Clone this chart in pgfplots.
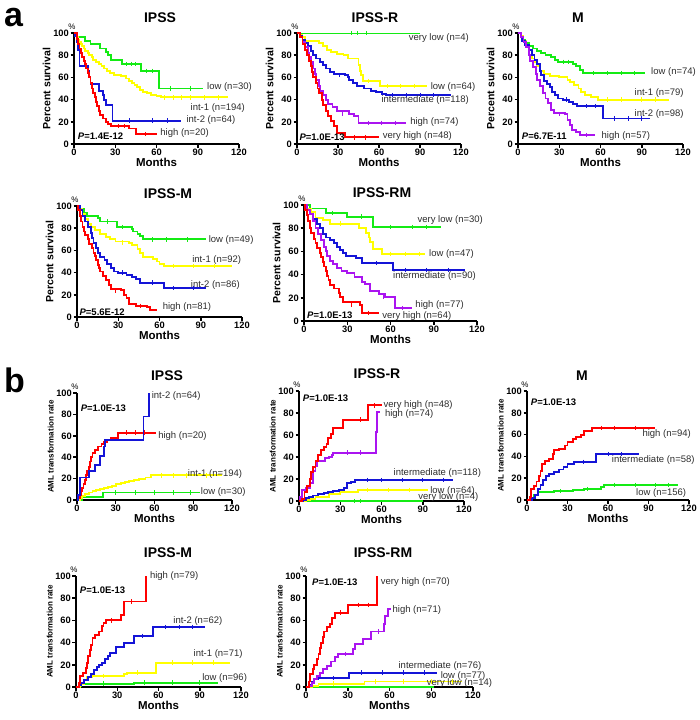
\documentclass[border=0pt]{standalone}
\usepackage{fontspec}
\setmainfont{Liberation Sans}
\usepackage{pgfplots}
\pgfplotsset{compat=1.18}
\definecolor{kmgreen}{RGB}{20,235,20}
\definecolor{kmyellow}{RGB}{255,255,0}
\definecolor{kmblue}{RGB}{20,20,215}
\definecolor{kmred}{RGB}{255,0,0}
\definecolor{kmpurple}{RGB}{170,20,240}
\definecolor{labgray}{RGB}{45,45,45}
\pgfplotsset{
  kmbase/.style={scale only axis, xmin=0, xmax=120, ymin=0, ymax=100,
    axis x line*=bottom, axis y line*=left, axis line style={line width=1.5pt,-},
    xtick={0,30,60,90,120}, ytick={0,20,40,60,80,100},
    tick align=outside, major tick length=3.5pt, tick style={line width=1.5pt,black},
    ticklabel style={font=\bfseries\fontsize{9.3}{9.3}\selectfont, inner sep=1.5pt},
    xlabel={Months}, xlabel style={font=\bfseries\fontsize{11.5}{12}\selectfont, inner sep=1pt},
    clip=false, anchor=north west, /pgf/number format/assume math mode=true,
    every axis plot/.append style={const plot, line width=1.9pt}},
  os/.style={kmbase, ylabel={Percent survival}, ylabel style={font=\bfseries\fontsize{10.5}{11}\selectfont, inner sep=1pt}},
  aml/.style={kmbase, ylabel={AML transformation rate}, ylabel style={font=\bfseries\fontsize{8}{9}\selectfont, inner sep=1pt}},
  cens/.style={only marks, mark=|, mark size=2.2pt, mark options={line width=0.8pt}},
}
\newcommand{\lab}[3]{\node[anchor=west, inner sep=1pt, font=\fontsize{9.5}{9.5}\selectfont, text=labgray] at (axis cs:#1,#2) {#3};}
\newcommand{\pval}[3]{\node[anchor=west, inner sep=1pt, font=\bfseries\fontsize{9.5}{9.5}\selectfont] at (axis cs:#1,#2) {\textit{P}=#3};}
\newcommand{\pct}{\node[font=\fontsize{8}{8}\selectfont, inner sep=0pt] at ([xshift=-2pt,yshift=6pt]rel axis cs:0,1) {\%};}
\newcommand{\ttl}[3]{\node[font=\bfseries\fontsize{14}{14}\selectfont] at (#1pt,-#2pt) {#3};}
\newcommand{\cens}[2]{\addplot[cens, color=#1] coordinates {#2};}
\begin{document}
\begin{tikzpicture}
\useasboundingbox (0pt,0pt) rectangle (700pt,-720pt);
\node[anchor=base west, inner sep=0pt, font=\bfseries\fontsize{34}{34}\selectfont] at (4pt,-26pt) {a};
\node[anchor=base west, inner sep=0pt, font=\bfseries\fontsize{34}{34}\selectfont] at (4pt,-392pt) {b};
% ---------- A1 IPSS
\begin{axis}[os, at={(74pt,-33pt)}, width=165pt, height=111pt]
\addplot[kmgreen] coordinates {(0,100)(2,96)(8,93)(12,90)(19,86)(23,83)(25,80)(27,76)(35,72)(49,66)(62,50)(94,50)};
\addplot[kmyellow] coordinates {(0,100)(1,98)(2,96)(3,94)(4,92)(5,90)(6,88)(7,86)(8,84)(10,82)(11,80)(13,78)(14,76)(16,74)(18,72)(20,70)(22,68)(24,66)(26,64)(29,62)(34,61)(38,59)(40,57)(42,55)(44,53)(46,51)(48,49)(50,47)(53,46)(56,44)(60,43)(63,42)(112,42)};
\addplot[kmblue] coordinates {(0,100)(1,97)(2,92)(3,85)(4,70)(10,66)(11,60)(12,54)(18,48)(21,44)(22,40)(23,35)(28,21)(78,21)};
\addplot[kmred] coordinates {(0,100)(2,95)(3,90)(4,86)(5,82)(6,78)(7,75)(8,72)(9,68)(10,64)(11,60)(12,55)(13,50)(14,46)(15,42)(16,38)(17,34)(18,30)(19,26)(21,23)(23,20)(25,18)(27,16)(40,14)(45,9)(60,9)};
\cens{kmgreen}{(38,72)(42,72)(45,72)(53,66)(57,66)(70,50)(85,50)}
\cens{kmyellow}{(66,42)(72,42)(78,42)(85,42)(95,42)(105,42)}
\cens{kmblue}{(40,21)(57,21)(68,21)}
\cens{kmred}{(32,16)(37,16)(52,9)}
\lab{96}{51}{low (n=30)}
\lab{84}{32}{int-1 (n=194)}
\lab{81}{22}{int-2 (n=64)}
\lab{62}{10}{high (n=20)}
\pval{2}{7}{1.4E-12}
\pct
\end{axis}
% ---------- A2 IPSS-R
\begin{axis}[os, at={(297pt,-33pt)}, width=164pt, height=111pt]
\addplot[kmgreen, line width=1pt] coordinates {(0,100)(90,100)};
\addplot[kmyellow] coordinates {(0,100)(2,98)(4,96)(6,93)(16,91)(19,88)(22,85)(25,83)(29,81)(34,80)(37,77)(45,71)(46,66)(47,62)(48,57)(61,52)(95,52)};
\addplot[kmblue] coordinates {(0,100)(2,97)(4,94)(6,91)(8,88)(10,84)(12,80)(14,77)(17,74)(19,71)(21,68)(24,65)(27,63)(35,62)(37,60)(38,58)(41,55)(44,52)(49,50)(54,48)(58,47)(62,45)(65,44)(113,44)};
\addplot[kmpurple] coordinates {(0,100)(2,96)(4,92)(6,87)(8,82)(9,78)(10,74)(12,68)(13,63)(14,58)(16,52)(17,48)(19,44)(21,40)(23,36)(26,33)(29,30)(38,27)(42,25)(45,19)(80,19)};
\addplot[kmred] coordinates {(0,100)(2,96)(4,90)(6,85)(7,80)(9,75)(10,70)(11,65)(12,60)(14,55)(15,50)(16,46)(18,40)(19,35)(21,30)(23,25)(25,21)(27,16)(29,10)(35,6)(60,6)};
\cens{kmgreen}{(40,100)(44,100)(51,100)}
\cens{kmyellow}{(52,57)(66,52)(76,52)(86,52)}
\cens{kmblue}{(31,62)(70,44)(80,44)(90,44)(100,44)}
\cens{kmpurple}{(33,27)(52,19)(62,19)(72,19)}
\cens{kmred}{(42,6)(50,6)}
\lab{81}{95.5}{very low (n=4)}
\lab{97}{51}{low (n=64)}
\lab{61}{40}{intermediate (n=118)}
\lab{82}{19.5}{high (n=74)}
\lab{62}{7}{very high (n=48)}
\pval{1}{6}{1.0E-13}
\pct
\end{axis}
% ---------- A3 M
\begin{axis}[os, at={(518pt,-33pt)}, width=165pt, height=111pt]
\addplot[kmgreen] coordinates {(0,100)(2,97)(3,94)(5,91)(8,88)(11,86)(14,84)(17,82)(20,80)(24,78)(27,76)(29,74)(40,72)(42,70)(45,67)(47,64)(92,64)};
\addplot[kmyellow] coordinates {(0,100)(2,97)(4,93)(6,88)(8,80)(10,77)(12,74)(14,70)(16,66)(19,63)(23,61)(30,60)(36,58)(38,56)(41,53)(44,50)(46,47)(49,44)(53,42)(58,40)(110,40)};
\addplot[kmblue] coordinates {(0,100)(2,96)(3,93)(5,89)(8,85)(10,80)(12,76)(14,72)(16,66)(17,62)(19,57)(21,54)(23,51)(25,47)(27,44)(29,41)(33,40)(37,38)(40,36)(43,34)(61,34)(62,23)(96,23)};
\addplot[kmpurple] coordinates {(0,100)(2,96)(4,92)(6,87)(8,80)(9,75)(11,69)(13,63)(14,58)(16,52)(18,46)(20,41)(22,37)(24,31)(26,28)(34,27)(36,22)(38,17)(39,13)(42,11)(45,8)(56,8)};
\cens{kmgreen}{(33,74)(37,74)(55,64)(65,64)(75,64)(85,64)}
\cens{kmyellow}{(65,40)(75,40)(90,40)(100,40)}
\cens{kmblue}{(35,40)(50,34)(56,34)(70,23)(80,23)(90,23)}
\cens{kmpurple}{(30,27)(50,8)}
\lab{96}{64.5}{low (n=74)}
\lab{84}{46}{int-1 (n=79)}
\lab{84}{27}{int-2 (n=98)}
\lab{60}{7.5}{high (n=57)}
\pval{2}{7}{6.7E-11}
\pct
\end{axis}
% ---------- A4 IPSS-M
\begin{axis}[os, at={(77pt,-206pt)}, width=165pt, height=111pt]
\addplot[kmgreen] coordinates {(0,100)(2,97)(5,94)(7,91)(15,89)(17,86)(29,81)(40,79)(41,77)(44,75)(46,73)(48,70)(94,70)};
\addplot[kmyellow] coordinates {(0,100)(2,97)(4,93)(6,88)(8,84)(10,81)(13,78)(17,75)(21,72)(24,70)(28,68)(38,67)(40,65)(44,61)(46,58)(48,54)(55,52)(58,50)(60,48)(63,46)(113,46)};
\addplot[kmblue] coordinates {(0,100)(2,96)(4,91)(6,86)(8,81)(10,76)(11,71)(12,67)(14,62)(15,58)(17,54)(20,51)(22,48)(25,44)(27,41)(30,40)(36,38)(40,36)(43,34)(46,31)(63,26)(94,26)};
\addplot[kmred] coordinates {(0,100)(1,96)(2,91)(3,86)(4,81)(5,77)(6,74)(8,70)(9,66)(11,62)(12,58)(13,55)(14,51)(15,47)(16,44)(17,41)(19,37)(21,33)(23,29)(25,25)(32,24)(34,20)(36,17)(38,12)(43,10)(51,9)(53,6)(58,6)};
\cens{kmgreen}{(22,86)(33,81)(55,70)(65,70)(80,70)}
\cens{kmyellow}{(33,67)(70,46)(85,46)(100,46)}
\cens{kmblue}{(33,40)(55,31)(70,26)(85,26)}
\cens{kmred}{(28,24)(46,10)}
\lab{95}{69}{low (n=49)}
\lab{83}{51}{int-1 (n=92)}
\lab{82}{29}{int-2 (n=86)}
\lab{61.5}{9}{high (n=81)}
\pval{1}{4}{5.6E-12}
\pct
\end{axis}
% ---------- A5 IPSS-RM
\begin{axis}[os, at={(304pt,-205pt)}, width=173pt, height=116pt]
\addplot[kmgreen] coordinates {(0,100)(4,97)(15,93)(30,90)(48,81)(95,81)};
\addplot[kmyellow] coordinates {(0,100)(2,97)(5,94)(8,89)(13,87)(18,84)(38,80)(43,76)(45,72)(46,68)(48,62)(54,58)(84,58)};
\addplot[kmblue] coordinates {(0,100)(2,96)(4,92)(6,88)(9,84)(11,80)(13,75)(15,72)(18,70)(21,67)(23,64)(25,61)(27,59)(29,56)(36,54)(40,50)(62,44)(112,44)};
\addplot[kmpurple] coordinates {(0,100)(2,96)(4,92)(6,86)(8,80)(10,75)(12,70)(14,64)(15,60)(16,56)(18,52)(20,49)(23,46)(26,43)(30,41)(35,38)(40,34)(42,32)(46,26)(52,23)(56,21)(63,11)(75,11)};
\addplot[kmred] coordinates {(0,100)(1,96)(2,91)(3,86)(4,80)(5,76)(7,71)(8,67)(9,63)(11,59)(12,55)(13,51)(14,47)(15,43)(16,39)(17,35)(18,31)(21,28)(24,24)(25,21)(27,16)(39,14)(40,7)(52,7)};
\cens{kmgreen}{(20,93)(40,90)(60,81)(75,81)(85,81)}
\cens{kmyellow}{(25,84)(60,58)(70,58)(80,58)}
\cens{kmblue}{(50,50)(70,44)(85,44)(100,44)}
\cens{kmpurple}{(55,21)(68,11)}
\cens{kmred}{(33,14)(45,7)}
\lab{78}{87}{very low (n=30)}
\lab{86}{57.6}{low (n=47)}
\lab{61}{39}{intermediate (n=90)}
\lab{76.5}{14}{high (n=77)}
\lab{53.5}{4.6}{very high (n=64)}
\pval{1.4}{4.6}{1.0E-13}
\pct
\end{axis}
% ---------- B1 IPSS
\begin{axis}[aml, at={(77pt,-393pt)}, width=155pt, height=107pt]
\addplot[kmgreen] coordinates {(0,0)(4,3)(20,7)(95,7)};
\addplot[kmyellow] coordinates {(0,0)(2,2)(4,4)(6,6)(9,7)(12,8)(15,9)(18,10)(21,11)(24,12)(27,13)(30,15)(34,16)(37,17)(40,18)(44,19)(48,20)(53,21)(57,23)(112,23)};
\addplot[kmred] coordinates {(0,0)(1,2)(2,5)(3,8)(4,11)(5,15)(6,19)(7,23)(8,27)(9,31)(10,36)(11,40)(12,44)(14,47)(16,50)(19,52)(21,54)(23,56)(26,58)(32,63)(61,63)};
\addplot[kmblue] coordinates {(0,0)(1,5)(2.5,21)(9,27)(14,33)(18,41)(21,50)(22,56)(51.5,78)(56,100)};
\cens{kmgreen}{(30,7)(45,7)(60,7)(75,7)(88,7)}
\cens{kmyellow}{(65,23)(75,23)(85,23)(100,23)}
\cens{kmred}{(38,63)(45,63)(52,63)}
\lab{57}{97}{int-2 (n=64)}
\lab{62}{60}{high (n=20)}
\lab{85}{24}{int-1 (n=194)}
\lab{95}{7}{low (n=30)}
\pval{2}{86}{1.0E-13}
\pct
\end{axis}
% ---------- B2 IPSS-R
\begin{axis}[aml, at={(299pt,-391pt)}, width=165pt, height=110pt]
\addplot[kmgreen] coordinates {(0,0)(90,0)};
\addplot[kmyellow] coordinates {(0,0)(5,1)(8,2)(12,4)(22,6)(30,8)(43,10)(94,10)};
\addplot[kmblue] coordinates {(0,0)(3,1)(5,3)(7,4)(10,5)(14,6)(18,7)(21,8)(25,9)(29,10)(33,12)(35,16)(38,17)(41,19)(112,19)};
\addplot[kmpurple] coordinates {(0,0)(1,4)(2,10)(5,12)(8,16)(10,27)(12,32)(13,36)(19,39)(22,40)(24,42)(25,44)(55,44)(56,63)(57,81)(59,81)};
\addplot[kmred] coordinates {(0,0)(2,2)(4,8)(6,14)(8,20)(9,26)(10,31)(12,36)(14,42)(16,46)(18,49)(20,52)(21,57)(23,61)(25,66)(32,74)(50,87)(60,87)};
\cens{kmgreen}{(40,0)(45,0)}
\cens{kmyellow}{(50,10)(65,10)(80,10)}
\cens{kmblue}{(50,19)(60,19)(75,19)(90,19)(105,19)}
\cens{kmpurple}{(35,44)(45,44)}
\cens{kmred}{(45,74)(55,87)}
\lab{60.7}{87.6}{very high (n=48)}
\lab{61.7}{79.5}{high (n=74)}
\lab{68}{25.7}{intermediate (n=118)}
\lab{94.6}{9.4}{low (n=64)}
\lab{86}{4}{very low (n=4)}
\pval{2}{93}{1.0E-13}
\pct
\end{axis}
% ---------- B3 M
\begin{axis}[aml, at={(527pt,-391pt)}, width=162pt, height=109pt]
\addplot[kmgreen] coordinates {(0,0)(3,2)(5,5)(8,7)(20,8)(34,9)(42,10)(55,12)(57,14)(112,14)};
\addplot[kmblue] coordinates {(0,0)(4,2)(6,5)(8,10)(10,14)(12,18)(14,22)(16,24)(20,26)(24,28)(27,30)(30,33)(35,35)(51,42)(83,42)};
\addplot[kmred] coordinates {(0,0)(2,3)(3,10)(5,13)(7,17)(9,22)(10,27)(11,33)(13,36)(16,38)(19,42)(20,46)(24,47)(28,50)(30,53)(34,56)(36,58)(40,60)(42,63)(48,66)(95,66)};
\cens{kmgreen}{(25,8)(45,10)(65,14)(80,14)(95,14)(105,14)}
\cens{kmblue}{(42,35)(60,42)(70,42)}
\cens{kmred}{(55,66)(65,66)(80,66)}
\lab{84.7}{60.5}{high (n=94)}
\lab{62}{37}{intermediate (n=58)}
\lab{80}{6.7}{low (n=156)}
\pval{2}{89.6}{1.0E-13}
\pct
\end{axis}
% ---------- B4 IPSS-M
\begin{axis}[aml, at={(76pt,-576pt)}, width=165pt, height=111pt]
\addplot[kmgreen] coordinates {(0,0)(2,1)(4,3)(42,4)(103,4)};
\addplot[kmyellow] coordinates {(0,0)(3,3)(6,6)(8,9)(12,10)(30,10)(35,12)(37,13)(58,22)(112,22)};
\addplot[kmblue] coordinates {(0,0)(2,2)(4,4)(6,6)(9,9)(11,12)(13,15)(15,18)(17,20)(19,22)(21,25)(23,28)(25,31)(29,36)(35,40)(42,46)(56,54)(94,54)};
\addplot[kmred] coordinates {(0,0)(2,4)(3,10)(5,13)(7,17)(8,22)(9,28)(10,33)(11,38)(12,44)(14,47)(17,50)(19,55)(20,58)(22,60)(31,60)(33,65)(35,77)(51,100)};
\cens{kmgreen}{(20,3)(50,4)(70,4)(90,4)}
\cens{kmyellow}{(20,10)(45,13)(70,22)(85,22)(100,22)}
\cens{kmblue}{(48,46)(65,54)(75,54)(85,54)}
\cens{kmred}{(26,60)(40,77)}
\lab{53}{99.7}{high (n=79)}
\lab{70}{59.5}{int-2 (n=62)}
\lab{84.7}{29.4}{int-1 (n=71)}
\lab{91}{8.4}{low (n=96)}
\pval{2}{87}{1.0E-13}
\pct
\end{axis}
% ---------- B5 IPSS-RM
\begin{axis}[aml, at={(306pt,-576pt)}, width=167pt, height=111pt]
\addplot[kmgreen] coordinates {(0,0)(92,0)};
\addplot[kmyellow] coordinates {(0,0)(4,1)(9,3)(42,5)(112,5)};
\addplot[kmblue] coordinates {(0,0)(2,2)(4,5)(6,7)(9,8)(14,8)(31,13)(94,13)};
\addplot[kmpurple] coordinates {(0,0)(2,1)(4,4)(6,7)(8,10)(10,13)(12,16)(15,19)(18,23)(21,27)(23,30)(34,34)(35,39)(41,43)(47,50)(56,57)(57,64)(59,70)(61,70)};
\addplot[kmred] coordinates {(0,0)(2,5)(3,12)(5,16)(6,20)(8,25)(9,30)(10,35)(11,40)(12,45)(13,50)(15,54)(17,57)(19,62)(21,67)(30,74)(51,100)};
\cens{kmyellow}{(20,3)(50,5)(70,5)(90,5)(105,5)}
\cens{kmblue}{(20,8)(40,13)(55,13)(70,13)(85,13)}
\cens{kmpurple}{(28,30)(52,50)}
\cens{kmred}{(25,67)(38,74)(45,74)}
\lab{53}{95}{very high (n=70)}
\lab{61.4}{69}{high (n=71)}
\lab{65.7}{19}{intermediate (n=76)}
\lab{96}{10}{low (n=77)}
\lab{86}{3.6}{very low (n=14)}
\pval{3.6}{94}{1.0E-13}
\pct
\end{axis}
% ---------- titles
\ttl{160}{18}{IPSS}
\ttl{375}{18}{IPSS-R}
\ttl{578}{18}{M}
\ttl{168}{194}{IPSS-M}
\ttl{382}{193}{IPSS-RM}
\ttl{167}{376}{IPSS}
\ttl{377}{374}{IPSS-R}
\ttl{582}{376}{M}
\ttl{168}{553}{IPSS-M}
\ttl{383}{553}{IPSS-RM}
\end{tikzpicture}
\end{document}
